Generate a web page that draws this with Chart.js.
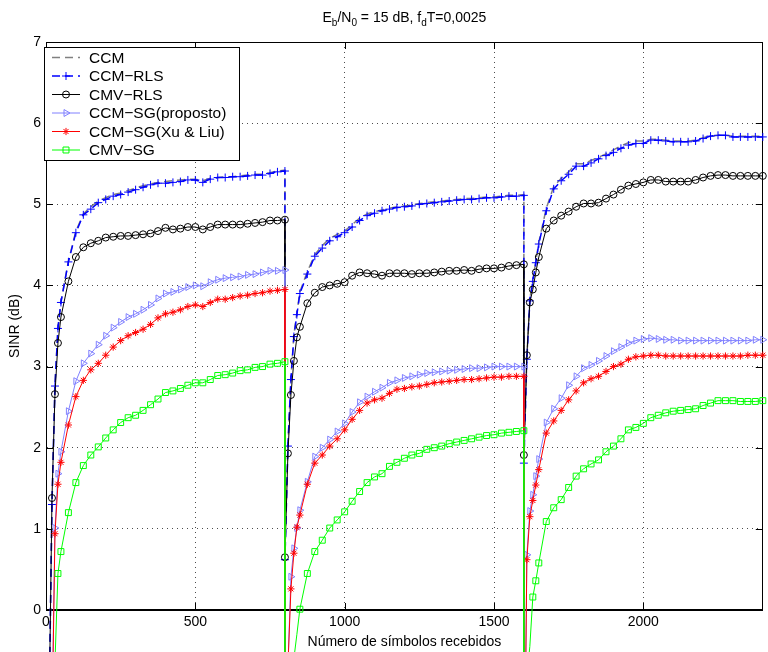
<!DOCTYPE html>
<html>
<head>
<meta charset="utf-8">
<title>SINR x símbolos recebidos</title>
<script src="https://cdn.jsdelivr.net/npm/chart.js@4.4.1/dist/chart.umd.min.js"></script>
<style>
  html, body { margin: 0; padding: 0; background: #fff; }
  #wrap { width: 768px; height: 652px; }
</style>
</head>
<body>
<div id="wrap"><canvas id="sinr" width="768" height="652"></canvas></div>
<script>
// número de símbolos recebidos (3 blocos de 800, o canal muda em 800 e 1600)
const symbols = [
  0, 10, 20, 30, 40, 50, 75, 100, 125, 150, 175, 200, 225, 250, 275, 300, 325, 350,
  375, 400, 425, 450, 475, 500, 525, 550, 575, 600, 625, 650, 675, 700, 725, 750, 775, 800,
  800, 810, 820, 830, 840, 850, 875, 900, 925, 950, 975, 1000, 1025, 1050, 1075, 1100, 1125, 1150,
  1175, 1200, 1225, 1250, 1275, 1300, 1325, 1350, 1375, 1400, 1425, 1450, 1475, 1500, 1525, 1550, 1575, 1600,
  1600, 1610, 1620, 1630, 1640, 1650, 1675, 1700, 1725, 1750, 1775, 1800, 1825, 1850, 1875, 1900, 1925, 1950,
  1975, 2000, 2025, 2050, 2075, 2100, 2125, 2150, 2175, 2200, 2225, 2250, 2275, 2300, 2325, 2350, 2375, 2400
];

// SINR (dB) de cada algoritmo
const ccm = [
  -6, -1.3, 1.3, 2.78, 3.48, 3.80, 4.30, 4.67, 4.88, 4.97, 5.04, 5.08, 5.12, 5.14, 5.17, 5.20, 5.23, 5.25,
  5.27, 5.28, 5.29, 5.30, 5.31, 5.31, 5.29, 5.32, 5.33, 5.34, 5.34, 5.35, 5.36, 5.37, 5.37, 5.39, 5.41, 5.42,
  0.62, 2.04, 2.86, 3.39, 3.66, 3.92, 4.17, 4.38, 4.49, 4.58, 4.63, 4.67, 4.75, 4.83, 4.88, 4.91, 4.93, 4.95,
  4.97, 4.98, 4.99, 5.01, 5.02, 5.03, 5.04, 5.05, 5.06, 5.07, 5.07, 5.08, 5.09, 5.09, 5.10, 5.11, 5.11, 5.12,
  1.81, 3.10, 3.83, 4.07, 4.30, 4.53, 4.95, 5.22, 5.32, 5.40, 5.50, 5.50, 5.54, 5.58, 5.62, 5.67, 5.72, 5.76,
  5.78, 5.78, 5.80, 5.80, 5.79, 5.78, 5.78, 5.78, 5.79, 5.82, 5.84, 5.85, 5.85, 5.84, 5.84, 5.84, 5.84, 5.84
];
const ccmRls = [
  -6, -1.3, 1.3, 2.76, 3.47, 3.79, 4.29, 4.65, 4.87, 4.94, 5.02, 5.06, 5.10, 5.12, 5.15, 5.18, 5.21, 5.24,
  5.26, 5.26, 5.27, 5.28, 5.30, 5.30, 5.27, 5.31, 5.33, 5.33, 5.34, 5.34, 5.35, 5.36, 5.36, 5.38, 5.40, 5.41,
  0.62, 2.02, 2.84, 3.37, 3.64, 3.90, 4.14, 4.36, 4.46, 4.55, 4.60, 4.65, 4.72, 4.80, 4.86, 4.89, 4.92, 4.94,
  4.96, 4.97, 4.98, 5.00, 5.01, 5.02, 5.03, 5.04, 5.05, 5.06, 5.06, 5.07, 5.08, 5.08, 5.09, 5.10, 5.10, 5.11,
  1.81, 3.09, 3.81, 4.05, 4.28, 4.51, 4.92, 5.19, 5.29, 5.37, 5.47, 5.47, 5.51, 5.56, 5.60, 5.64, 5.69, 5.73,
  5.75, 5.75, 5.79, 5.79, 5.78, 5.77, 5.77, 5.77, 5.78, 5.81, 5.84, 5.85, 5.85, 5.83, 5.83, 5.83, 5.83, 5.83
];
const cmvRls = [
  -6, -1.4, 1.38, 2.66, 3.29, 3.61, 4.05, 4.35, 4.47, 4.52, 4.55, 4.59, 4.60, 4.61, 4.61, 4.62, 4.63, 4.64,
  4.67, 4.71, 4.69, 4.70, 4.72, 4.72, 4.69, 4.72, 4.75, 4.75, 4.75, 4.75, 4.76, 4.77, 4.78, 4.80, 4.80, 4.81,
  0.65, 1.93, 2.65, 3.07, 3.36, 3.49, 3.78, 3.91, 3.98, 4.00, 4.02, 4.04, 4.12, 4.16, 4.15, 4.14, 4.12, 4.15,
  4.15, 4.15, 4.14, 4.15, 4.15, 4.16, 4.17, 4.18, 4.18, 4.19, 4.18, 4.20, 4.21, 4.21, 4.22, 4.24, 4.25, 4.26,
  1.91, 3.14, 3.79, 3.95, 4.16, 4.35, 4.70, 4.80, 4.86, 4.91, 4.97, 5.01, 5.01, 5.02, 5.07, 5.12, 5.18, 5.23,
  5.25, 5.27, 5.30, 5.30, 5.28, 5.28, 5.28, 5.28, 5.30, 5.33, 5.35, 5.36, 5.36, 5.35, 5.35, 5.35, 5.35, 5.35
];
const ccmSgProposto = [
  -8, -5, -1.3, 1.01, 1.68, 1.95, 2.45, 2.82, 3.04, 3.16, 3.27, 3.38, 3.48, 3.55, 3.61, 3.65, 3.70, 3.76,
  3.84, 3.90, 3.92, 3.95, 3.98, 4.00, 3.99, 4.04, 4.07, 4.09, 4.10, 4.11, 4.13, 4.14, 4.16, 4.18, 4.18, 4.19,
  -6, -0.7, 0.41, 0.76, 1.01, 1.23, 1.58, 1.89, 2.00, 2.10, 2.20, 2.30, 2.44, 2.56, 2.63, 2.69, 2.74, 2.80,
  2.83, 2.86, 2.88, 2.90, 2.92, 2.93, 2.94, 2.95, 2.96, 2.97, 2.98, 2.98, 2.99, 3.00, 3.00, 3.00, 3.00, 3.00,
  -3, 0.68, 1.22, 1.42, 1.65, 1.86, 2.31, 2.48, 2.61, 2.77, 2.88, 2.98, 3.02, 3.07, 3.13, 3.19, 3.24, 3.29,
  3.32, 3.34, 3.35, 3.34, 3.33, 3.33, 3.32, 3.32, 3.32, 3.32, 3.32, 3.32, 3.32, 3.32, 3.32, 3.32, 3.33, 3.33
];
const ccmSgXuLiu = [
  -8, -5, -1.5, 0.94, 1.55, 1.82, 2.28, 2.63, 2.83, 2.96, 3.04, 3.14, 3.24, 3.32, 3.38, 3.42, 3.46, 3.52,
  3.60, 3.65, 3.67, 3.70, 3.74, 3.76, 3.74, 3.79, 3.83, 3.83, 3.85, 3.87, 3.88, 3.90, 3.91, 3.93, 3.94, 3.95,
  -6, -0.7, 0.26, 0.70, 1.02, 1.17, 1.55, 1.81, 1.91, 2.02, 2.11, 2.22, 2.35, 2.46, 2.55, 2.59, 2.61, 2.67,
  2.72, 2.73, 2.75, 2.76, 2.78, 2.80, 2.81, 2.82, 2.83, 2.84, 2.84, 2.85, 2.86, 2.87, 2.87, 2.88, 2.88, 2.88,
  -3, 0.62, 1.15, 1.35, 1.54, 1.73, 2.18, 2.33, 2.46, 2.59, 2.70, 2.80, 2.85, 2.88, 2.94, 3.00, 3.03, 3.09,
  3.12, 3.13, 3.14, 3.14, 3.13, 3.13, 3.13, 3.13, 3.13, 3.13, 3.13, 3.13, 3.13, 3.13, 3.13, 3.14, 3.14, 3.14
];
const cmvSg = [
  -9, -6, -3, -0.65, 0.45, 0.72, 1.20, 1.57, 1.78, 1.91, 2.01, 2.12, 2.22, 2.31, 2.37, 2.40, 2.46, 2.53,
  2.60, 2.68, 2.70, 2.73, 2.77, 2.80, 2.80, 2.84, 2.89, 2.90, 2.92, 2.95, 2.96, 2.99, 3.00, 3.03, 3.04, 3.06,
  -6, -4, -2, -0.6, -0.3, 0.01, 0.45, 0.72, 0.86, 1.01, 1.11, 1.21, 1.34, 1.46, 1.57, 1.64, 1.68, 1.77,
  1.82, 1.87, 1.91, 1.93, 1.98, 2.00, 2.02, 2.05, 2.07, 2.09, 2.11, 2.13, 2.15, 2.16, 2.18, 2.19, 2.20, 2.21,
  -6, -0.8, -0.45, 0.16, 0.36, 0.58, 1.09, 1.26, 1.36, 1.51, 1.65, 1.74, 1.80, 1.85, 1.95, 2.02, 2.11, 2.22,
  2.25, 2.30, 2.37, 2.40, 2.43, 2.45, 2.46, 2.47, 2.48, 2.52, 2.55, 2.58, 2.58, 2.58, 2.57, 2.57, 2.57, 2.58
];

const seriesNames = ["CCM", "CCM\u2212RLS", "CMV\u2212RLS", "CCM\u2212SG(proposto)", "CCM\u2212SG(Xu & Liu)", "CMV\u2212SG"];
const xTicks = [0, 500, 1000, 1500, 2000];
const yTicks = [0, 1, 2, 3, 4, 5, 6, 7];

Chart.defaults.font.family = "'Liberation Sans', Arial, Helvetica, sans-serif";
Chart.defaults.font.size = 14;
Chart.defaults.color = "#000";

const toPoints = (values) => symbols.map((x, i) => ({ x: x, y: values[i] }));
// marcadores só dentro do gráfico (abaixo de 0 dB a curva sai do eixo)
const radiusIn = (r) => (c) => (c.raw && c.raw.y < 0 ? 0 : r);

const looks = [
  { color: "#808080", dash: [8, 5], width: 1.5, style: false, r: 0 },
  { color: "#0000ff", dash: [8, 5], width: 1.5, style: "cross", r: 4 },
  { color: "#000000", dash: [], width: 1, style: "circle", r: 3.5 },
  { color: "#8080ff", dash: [], width: 1, style: "triangle", r: 4, rot: 90 },
  { color: "#ff0000", dash: [], width: 1, style: "star", r: 3.6 },
  { color: "#00ff00", dash: [], width: 1, style: "rect", r: 4.2 }
];
const allValues = [ccm, ccmRls, cmvRls, ccmSgProposto, ccmSgXuLiu, cmvSg];

const datasets = allValues.map((vals, i) => {
  const lk = looks[i];
  return {
    label: seriesNames[i],
    data: toPoints(vals),
    borderColor: lk.color,
    borderWidth: lk.width,
    borderDash: lk.dash,
    pointStyle: lk.style || "circle",
    pointRotation: lk.rot || 0,
    pointRadius: radiusIn(lk.r),
    pointHoverRadius: 0,
    pointBorderColor: lk.color,
    pointBackgroundColor: "rgba(0,0,0,0)",
    pointBorderWidth: 1,
    tension: 0,
    fill: false,
    clip: false,
    order: allValues.length - i // o último da lista fica por cima, como no MATLAB
  };
});

// caixa, ticks para dentro (estilo MATLAB)
const framePlugin = {
  id: "frame",
  beforeDatasetsDraw(chart) {
    const { ctx, chartArea: a, scales } = chart;
    ctx.save();
    ctx.strokeStyle = "#000";
    ctx.lineWidth = 1;
    ctx.strokeRect(Math.round(a.left) + 0.5, Math.round(a.top) + 0.5, Math.round(a.right - a.left) - 1, Math.round(a.bottom - a.top));
    ctx.beginPath();
    xTicks.forEach((t) => {
      const x = Math.round(scales.x.getPixelForValue(t)) + 0.5;
      ctx.moveTo(x, a.bottom); ctx.lineTo(x, a.bottom - 7);
      ctx.moveTo(x, a.top); ctx.lineTo(x, a.top + 7);
    });
    yTicks.forEach((t) => {
      const y = Math.round(scales.y.getPixelForValue(t)) + 0.5;
      ctx.moveTo(a.left, y); ctx.lineTo(a.left + 7, y);
      ctx.moveTo(a.right, y); ctx.lineTo(a.right - 7, y);
    });
    ctx.stroke();
    // eixo x mais grosso
    ctx.lineWidth = 2;
    ctx.beginPath();
    ctx.moveTo(a.left, Math.round(a.bottom));
    ctx.lineTo(a.right, Math.round(a.bottom));
    ctx.stroke();
    ctx.restore();
  }
};

function legendMark(ctx, lk, x, y) {
  if (!lk.style) return;
  const hp = Chart.helpers && Chart.helpers.drawPoint;
  ctx.fillStyle = "rgba(0,0,0,0)";
  ctx.setLineDash([]);
  ctx.lineWidth = 1;
  if (hp) {
    hp(ctx, { pointStyle: lk.style, rotation: lk.rot || 0, radius: lk.r, borderWidth: 1 }, x, y);
  } else {
    ctx.beginPath(); ctx.arc(x, y, lk.r, 0, Math.PI * 2); ctx.stroke();
  }
}

// legenda dentro do gráfico, canto superior esquerdo
const boxLegend = {
  id: "boxLegend",
  afterDatasetsDraw(chart) {
    const ctx = chart.ctx;
    const left = 44.5, top = 47.5, w = 195, h = 113;
    ctx.save();
    ctx.fillStyle = "#fff";
    ctx.fillRect(left, top, w, h);
    ctx.strokeStyle = "#000";
    ctx.lineWidth = 1;
    ctx.strokeRect(left, top, w, h);
    ctx.font = "15.5px 'Liberation Sans', Arial, sans-serif";
    ctx.textBaseline = "middle";
    seriesNames.forEach((name, i) => {
      const lk = looks[i];
      const y = 57.5 + i * 18.5;
      ctx.strokeStyle = lk.color;
      ctx.lineWidth = lk.width;
      ctx.setLineDash(lk.dash);
      ctx.beginPath();
      ctx.moveTo(52, y); ctx.lineTo(80, y);
      ctx.stroke();
      legendMark(ctx, lk, 66, y);
      ctx.fillStyle = "#000";
      ctx.fillText(name, 89, y + 1);
    });
    ctx.restore();
  }
};

// título com subscritos: Eb/N0 = 15 dB, fdT=0,0025
const titlePlugin = {
  id: "subTitle",
  afterDraw(chart) {
    const ctx = chart.ctx;
    const a = chart.chartArea;
    const parts = [["E", 0], ["b", 1], ["/N", 0], ["0", 1], [" = 15 dB, f", 0], ["d", 1], ["T=0,0025", 0]];
    const big = "14px 'Liberation Sans', Arial, sans-serif";
    const small = "10px 'Liberation Sans', Arial, sans-serif";
    ctx.save();
    ctx.fillStyle = "#000";
    ctx.textBaseline = "alphabetic";
    let total = 0;
    parts.forEach((p) => { ctx.font = p[1] ? small : big; total += ctx.measureText(p[0]).width; });
    let x = (a.left + a.right) / 2 - total / 2;
    const base = 22;
    parts.forEach((p) => {
      ctx.font = p[1] ? small : big;
      ctx.fillText(p[0], x, p[1] ? base + 4 : base);
      x += ctx.measureText(p[0]).width;
    });
    ctx.restore();
  }
};

new Chart(document.getElementById("sinr"), {
  type: "line",
  data: { datasets: datasets },
  options: {
    responsive: false,
    animation: false,
    layout: { padding: { top: 42, right: 2, left: 0, bottom: 0 } },
    plugins: { legend: { display: false }, tooltip: { enabled: false }, title: { display: false } },
    scales: {
      x: {
        type: "linear",
        min: 0,
        max: 2400,
        afterFit: (s) => { s.height = 42; },
        afterBuildTicks: (s) => { s.ticks = xTicks.map((v) => ({ value: v })); },
        ticks: { maxRotation: 0, autoSkip: false, padding: 4, callback: (v) => String(v) },
        grid: { color: "rgba(0,0,0,0.7)", lineWidth: 1, drawTicks: false },
        border: { display: true, color: "#000", width: 1, dash: [1, 4] },
        title: { display: true, text: "Número de símbolos recebidos", padding: { top: 0, bottom: 1 } }
      },
      y: {
        min: 0,
        max: 7,
        afterFit: (s) => { s.width = 46; },
        afterBuildTicks: (s) => { s.ticks = yTicks.map((v) => ({ value: v })); },
        ticks: { padding: 5, callback: (v) => String(v) },
        grid: { color: "rgba(0,0,0,0.7)", lineWidth: 1, drawTicks: false },
        border: { display: true, color: "#000", width: 1, dash: [1, 4] },
        title: { display: true, text: "SINR (dB)", padding: { top: 7, bottom: 0 } }
      }
    }
  },
  plugins: [framePlugin, boxLegend, titlePlugin]
});
</script>
</body>
</html>
